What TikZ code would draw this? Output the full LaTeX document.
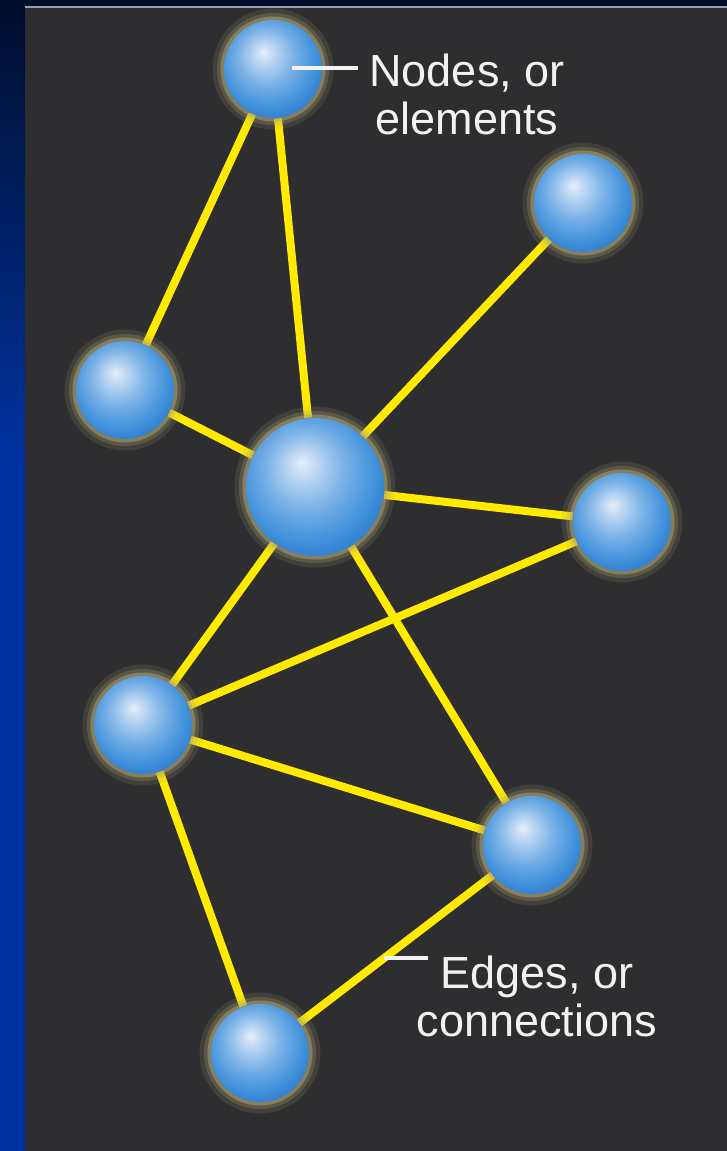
\documentclass[tikz,border=0pt]{standalone}
\usepackage{fontspec}
\setmainfont{Liberation Sans}
\usetikzlibrary{backgrounds, calc, positioning}
\definecolor{panelcol}{RGB}{46, 46, 48}
\definecolor{navycol}{RGB}{0, 14, 44}
\definecolor{stripcol}{RGB}{0, 50, 160}
\definecolor{rimcol}{RGB}{150, 160, 185}
\definecolor{wirecol}{RGB}{255, 234, 0}
\definecolor{glowcol}{RGB}{175, 166, 115}
\definecolor{orbhi}{RGB}{230, 238, 250}
\definecolor{orbmid}{RGB}{66, 146, 220}
\definecolor{orbdeep}{RGB}{30, 106, 194}
\definecolor{inkcol}{RGB}{242, 242, 242}
\pgfdeclareradialshading{orbshade}{\pgfpoint{-5bp}{9bp}}{%
  color(0bp)=(orbhi); color(4bp)=(orbhi!80!orbmid);
  color(14bp)=(orbhi!35!orbmid); color(24bp)=(orbmid);
  color(36bp)=(orbdeep); color(50bp)=(orbdeep)}
\tikzset{
  orb/.style    = {circle, inner sep=0pt, minimum size=9.8mm, shading=orbshade,
                   preaction={draw=glowcol, draw opacity=.15, line width=6.5pt},
                   preaction={draw=glowcol, draw opacity=.25, line width=4pt},
                   preaction={draw=glowcol, draw opacity=.5, line width=2pt}},
  hub/.style    = {orb, minimum size=13.8mm},
  link/.style   = {draw=wirecol, line width=0.8mm},
  pointer/.style= {draw=inkcol, line width=1pt},
  caption/.style= {text=inkcol, align=center, inner sep=0pt,
                   font=\fontsize{12.8}{13.8}\selectfont},
}

\begin{document}
\begin{tikzpicture}
  \useasboundingbox (0,0) rectangle (7.27,-11.51);

  %% ---------------- the nodes ----------------
  \node[orb] (n1) at (2.73,-0.69)  {};
  \node[orb] (n2) at (5.83,-2.03)  {};
  \node[orb] (n3) at (1.25,-3.90)  {};
  \node[hub] (n4) at (3.15,-4.87)  {};
  \node[orb] (n5) at (6.22,-5.22)  {};
  \node[orb] (n6) at (1.43,-7.25)  {};
  \node[orb] (n7) at (5.32,-8.45)  {};
  \node[orb] (n8) at (2.60,-10.53) {};

  %% ---------------- the labels ----------------
  \node[caption, anchor=north] (lblnodes) at (4.67,-0.53)
       {Nodes, or\\elements};
  \node[caption, anchor=north] (lbledges) at (5.37,-9.55)
       {Edges, or\\connections};

  \begin{scope}[on background layer]
    % slide frame and dark panel
    \fill[stripcol] (0,0) rectangle (0.25,-11.51);
    \shade[top color=navycol, bottom color=stripcol]
          (0,0) rectangle (0.25,-4.6);
    \fill[navycol] (0,0) rectangle (7.27,-0.07);
    \fill[panelcol] (0.25,-0.07) rectangle (7.27,-11.51);
    \draw[rimcol, line width=0.5pt] (0.25,-0.07) -- (7.27,-0.07);

    %% ---------------- the edges ----------------
    \foreach \a/\b in {n1/n3, n1/n4, n2/n4, n3/n4, n4/n5, n4/n6,
                       n4/n7, n5/n6, n6/n7, n6/n8} {
      \draw[link] (\a) -- (\b);
    }
    \draw[link] (n7) -- coordinate[pos=.5625] (edgept) (n8);
  \end{scope}

  %% ---------------- the pointers ----------------
  \coordinate (tipnodes) at ($(lblnodes.west |- n1)+(-0.11,0.01)$);
  \draw[pointer] ($(n1.center)+(0.19,0.01)$) -- (tipnodes);
  \coordinate (tipedges) at ($(edgept)+(0.44,0)$);
  \draw[pointer] (edgept) -- (tipedges);

\end{tikzpicture}
\end{document}
